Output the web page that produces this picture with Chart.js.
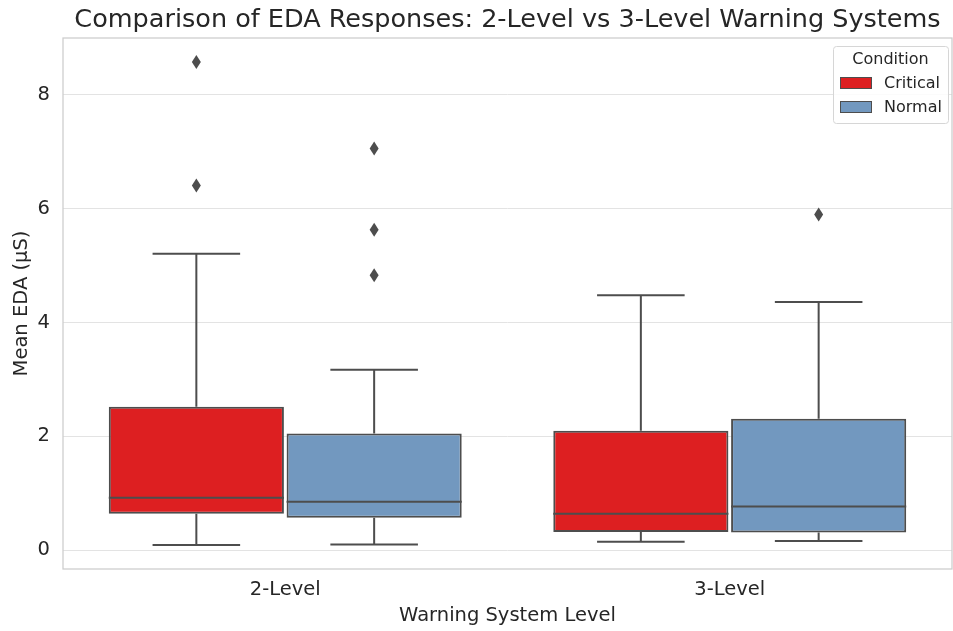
<!DOCTYPE html>
<html>
<head>
<meta charset="utf-8">
<script src="https://cdn.jsdelivr.net/npm/chart.js@4"></script>
<style>
  html, body { margin: 0; padding: 0; background: #fff; }
  #wrap { width: 953px; height: 631px; position: relative; }
</style>
</head>
<body>
<div id="wrap"><canvas id="c" width="953" height="631"></canvas></div>
<script>
// categories / series
const levels = ['2-Level', '3-Level'];
const conditions = ['Critical', 'Normal'];
const yTicks = [0, 2, 4, 6, 8];
const chartTitle = 'Comparison of EDA Responses: 2-Level vs 3-Level Warning Systems';

// box stats (Mean EDA, µS)
const criticalLow = [0.09, 0.15];
const criticalQ1 = [0.64, 0.32];
const criticalMedian = [0.92, 0.64];
const criticalQ3 = [2.52, 2.10];
const criticalHigh = [5.21, 4.48];
const criticalOutliers = [[8.58, 6.41], []];

const normalLow = [0.10, 0.16];
const normalQ1 = [0.57, 0.31];
const normalMedian = [0.85, 0.77];
const normalQ3 = [2.05, 2.31];
const normalHigh = [3.17, 4.36];
const normalOutliers = [[7.06, 5.63, 4.83], [5.90]];

const colors = ['rgb(221,31,33)', 'rgb(114,152,191)'];
const lineColor = 'rgb(77,77,77)';
const textColor = '#262626';
const FONT = "'DejaVu Sans', sans-serif";

const stats = [
  { low: criticalLow, q1: criticalQ1, med: criticalMedian, q3: criticalQ3, high: criticalHigh, out: criticalOutliers },
  { low: normalLow, q1: normalQ1, med: normalMedian, q3: normalQ3, high: normalHigh, out: normalOutliers }
];

const boxPlugin = {
  id: 'boxExtras',
  beforeDatasetsDraw(chart) {
    // frame around the plot area
    const a = chart.chartArea, ctx = chart.ctx;
    ctx.save();
    ctx.strokeStyle = '#cccccc';
    ctx.lineWidth = 1.25;
    ctx.strokeRect(a.left, a.top, a.right - a.left, a.bottom - a.top);
    ctx.restore();
  },
  afterDatasetsDraw(chart) {
    const ctx = chart.ctx, y = chart.scales.y;
    ctx.save();
    ctx.strokeStyle = lineColor;
    ctx.lineWidth = 2;
    stats.forEach(function(s, di){
      const meta = chart.getDatasetMeta(di);
      meta.data.forEach(function(el, i){
        const x = el.x, w = el.width;
        const pLow = y.getPixelForValue(s.low[i]), pQ1 = y.getPixelForValue(s.q1[i]);
        const pQ3 = y.getPixelForValue(s.q3[i]), pHigh = y.getPixelForValue(s.high[i]);
        const pMed = y.getPixelForValue(s.med[i]);
        ctx.beginPath();
        ctx.moveTo(x, pQ3); ctx.lineTo(x, pHigh);
        ctx.moveTo(x - w / 4, pHigh); ctx.lineTo(x + w / 4, pHigh);
        ctx.moveTo(x, pQ1); ctx.lineTo(x, pLow);
        ctx.moveTo(x - w / 4, pLow); ctx.lineTo(x + w / 4, pLow);
        ctx.moveTo(x - w / 2, pMed); ctx.lineTo(x + w / 2, pMed);
        ctx.stroke();
        ctx.fillStyle = lineColor;
        s.out[i].forEach(function(v){
          const py = y.getPixelForValue(v);
          ctx.beginPath();
          ctx.moveTo(x, py - 7); ctx.lineTo(x + 4.5, py);
          ctx.lineTo(x, py + 7); ctx.lineTo(x - 4.5, py);
          ctx.closePath();
          ctx.fill();
        });
      });
    });
    ctx.restore();
  },
  afterDraw(chart) {
    const ctx = chart.ctx, a = chart.chartArea;
    ctx.save();
    // title centred over the plot area, like matplotlib
    ctx.fillStyle = textColor;
    ctx.font = '25.5px ' + FONT;
    ctx.textAlign = 'center';
    ctx.textBaseline = 'middle';
    ctx.fillText(chartTitle, (a.left + a.right) / 2, 20);

    // legend box in the upper right of the plot
    const bx = a.right - 119, by = a.top + 8, bw = 115, bh = 77;
    ctx.fillStyle = 'rgba(255,255,255,0.85)';
    ctx.strokeStyle = '#d6d6d6';
    ctx.lineWidth = 1;
    ctx.beginPath();
    ctx.roundRect(bx + 0.5, by + 0.5, bw, bh, 3);
    ctx.fill(); ctx.stroke();
    ctx.fillStyle = textColor;
    ctx.font = '16px ' + FONT;
    ctx.fillText('Condition', bx + bw / 2, by + 14);
    ctx.textAlign = 'left';
    conditions.forEach(function(c, i){
      const ry = by + 37 + i * 24;
      ctx.fillStyle = colors[i];
      ctx.fillRect(bx + 7, ry - 6, 32, 12);
      ctx.strokeStyle = lineColor;
      ctx.lineWidth = 1;
      ctx.strokeRect(bx + 7.5, ry - 5.5, 31, 11);
      ctx.fillStyle = textColor;
      ctx.fillText(c, bx + 51, ry + 1);
    });
    ctx.restore();
  }
};

new Chart(document.getElementById('c'), {
  type: 'bar',
  data: {
    labels: levels,
    datasets: conditions.map(function(c, i){
      return {
        label: c,
        data: stats[i].q1.map(function(q, k){ return [q, stats[i].q3[k]]; }),
        backgroundColor: colors[i],
        borderColor: lineColor,
        borderWidth: 2,
        borderSkipped: false,
        categoryPercentage: 0.8,
        barPercentage: 0.985
      };
    })
  },
  options: {
    responsive: false,
    animation: false,
    layout: { padding: { left: 0, right: 1, top: 38, bottom: 0 } },
    plugins: {
      legend: { display: false },
      tooltip: { enabled: false },
      title: { display: false }
    },
    scales: {
      x: {
        grid: { display: false, drawTicks: false },
        border: { display: false },
        ticks: { color: textColor, font: { family: FONT, size: 19.5 }, padding: 9 },
        title: { display: true, text: 'Warning System Level', color: textColor,
                 font: { family: FONT, size: 19.5 }, padding: { top: 2, bottom: 3 } },
        afterFit: function(s){ s.height = 62; }
      },
      y: {
        min: -0.33,
        max: 9.0,
        grid: { color: '#e3e3e3', lineWidth: 1, drawTicks: false },
        border: { display: false },
        afterBuildTicks: function(s){ s.ticks = yTicks.map(function(v){ return { value: v }; }); },
        ticks: { color: textColor, font: { family: FONT, size: 19.5 }, padding: 13 },
        title: { display: true, text: 'Mean EDA (µS)', color: textColor,
                 font: { family: FONT, size: 19.5 }, padding: { top: 10, bottom: 0 } },
        afterFit: function(s){ s.width = 63; }
      }
    }
  },
  plugins: [boxPlugin]
});
</script>
</body>
</html>
